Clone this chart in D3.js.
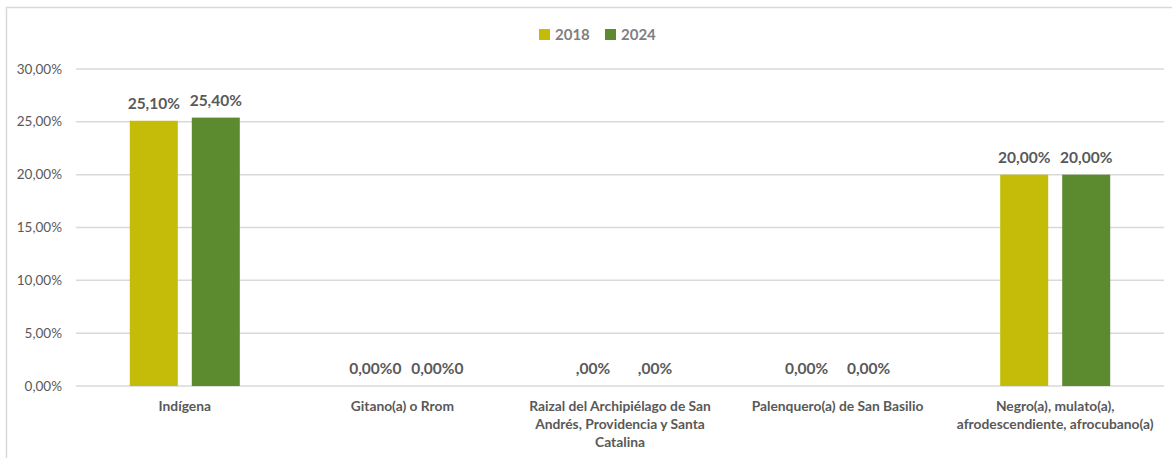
<!DOCTYPE html>
<html><head><meta charset="utf-8">
<script src="https://cdn.jsdelivr.net/npm/d3@7"></script>
<style>body{margin:0;background:#fff;}svg{display:block;font-family:Lato,"Open Sans",sans-serif;}</style>
</head><body>
<svg id="c" width="1172" height="458"></svg>
<script>
const categories = ["Indígena","Gitano(a) o Rrom","Raizal del Archipiélago de San Andrés, Providencia y Santa Catalina","Palenquero(a) de San Basilio","Negro(a), mulato(a), afrodescendiente, afrocubano(a)"];
const categoryLines = [["Indígena"],["Gitano(a) o Rrom"],["Raizal del Archipiélago de San","Andrés, Providencia y Santa","Catalina"],["Palenquero(a) de San Basilio"],["Negro(a), mulato(a),","afrodescendiente, afrocubano(a)"]];
const seriesNames = ["2018","2024"];
const values2018 = [25.1, 0, 0, 0, 20.0];
const values2024 = [25.4, 0, 0, 0, 20.0];
const labels2018 = ["25,10%","0,00%0",",00%","0,00%","20,00%"];
const labels2024 = ["25,40%","0,00%0",",00%","0,00%","20,00%"];
const yTicks = [0,5,10,15,20,25,30];
const yTickLabels = ["0,00%","5,00%","10,00%","15,00%","20,00%","25,00%","30,00%"];
const colors = ["#C4BC08","#5B8A2F"];

const svg = d3.select("#c");
svg.append("rect").attr("x",6.5).attr("y",7.5).attr("width",1200).attr("height",500)
  .attr("fill","none").attr("stroke","#d9d9d9").attr("stroke-width",1.5);

const L=76,R=1164,T=69,B=386;
const x = d3.scaleBand().domain(categories).range([L,R]);
const y = d3.scaleLinear().domain([0,30]).range([B,T]);
const barW=48, gap=14;

const g = svg.append("g");
g.selectAll("line.grid").data(yTicks).join("line")
  .attr("x1",L).attr("x2",R).attr("y1",d=>y(d)).attr("y2",d=>y(d))
  .attr("stroke","#d9d9d9").attr("stroke-width",1.5);
g.selectAll("text.yt").data(yTicks).join("text")
  .attr("x",62).attr("y",d=>y(d)+4.5).attr("text-anchor","end")
  .attr("font-size",13.5).attr("fill","#595959").text((d,i)=>yTickLabels[i]);

const series=[{vals:values2018,labs:labels2018,off:-(gap/2+barW/2)},{vals:values2024,labs:labels2024,off:(gap/2+barW/2)}];
series.forEach((s,si)=>{
  const cx=(i)=>x(categories[i])+x.bandwidth()/2+s.off;
  g.selectAll("rect.s"+si).data(s.vals).join("rect")
    .attr("x",(d,i)=>cx(i)-barW/2).attr("width",barW)
    .attr("y",d=>y(d)).attr("height",d=>B-y(d)).attr("fill",colors[si]);
  g.selectAll("text.l"+si).data(s.vals).join("text")
    .attr("x",(d,i)=>cx(i)+(s.labs[i].length===6&&s.labs[i].endsWith("0")?4:(s.labs[i].startsWith(",")?4:0)))
    .attr("y",d=>y(d)-12).attr("text-anchor","middle")
    .attr("font-size",15.5).attr("font-weight","bold").attr("fill","#595959")
    .text((d,i)=>s.labs[i]);
});

categories.forEach((c,i)=>{
  const t=g.append("text").attr("x",x(c)+x.bandwidth()/2).attr("y",411)
    .attr("text-anchor","middle").attr("font-size",13.8).attr("font-weight","bold").attr("fill","#595959");
  categoryLines[i].forEach((ln,j)=>t.append("tspan").attr("x",x(c)+x.bandwidth()/2).attr("dy",j?18:0).text(ln));
});

const leg=svg.append("g");
const legX=[539,605];
seriesNames.forEach((n,i)=>{
  leg.append("rect").attr("x",legX[i]).attr("y",29).attr("width",11).attr("height",11).attr("fill",colors[i]);
  leg.append("text").attr("x",legX[i]+16).attr("y",40).attr("font-size",15).attr("font-weight","bold").attr("fill","#7f7f7f").text(n);
});
</script>
</body></html>
